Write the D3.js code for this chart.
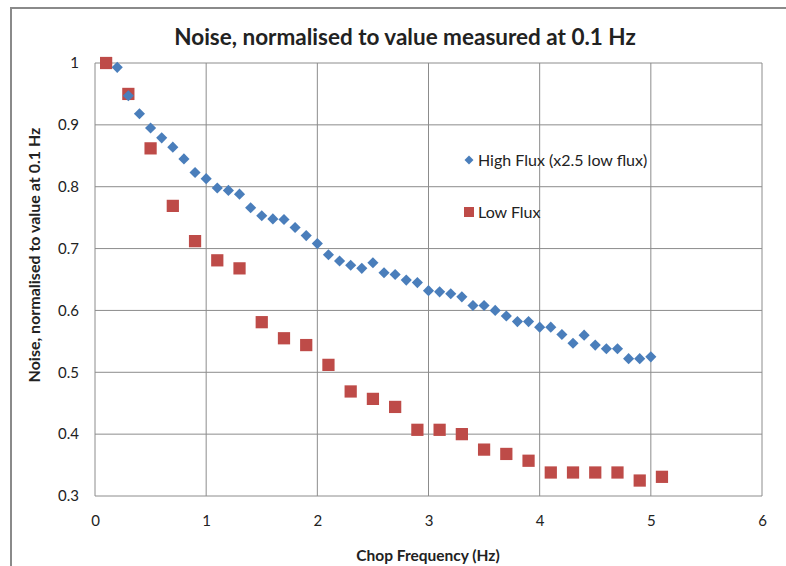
<!DOCTYPE html>
<html>
<head>
<meta charset="utf-8">
<script src="https://cdn.jsdelivr.net/npm/d3@7"></script>
<style>
  body { margin: 0; background: #fff; }
  text { font-family: Lato, 'Open Sans', sans-serif; fill: #222; }
</style>
</head>
<body>
<div class="graph"></div>
<script>
var width = 786,
    height = 566

// chop frequency (Hz)
var highFreq = [0.2, 0.3, 0.4, 0.5, 0.6, 0.7, 0.8, 0.9, 1.0, 1.1, 1.2, 1.3, 1.4, 1.5, 1.6, 1.7,
  1.8, 1.9, 2.0, 2.1, 2.2, 2.3, 2.4, 2.5, 2.6, 2.7, 2.8, 2.9, 3.0, 3.1, 3.2, 3.3, 3.4, 3.5,
  3.6, 3.7, 3.8, 3.9, 4.0, 4.1, 4.2, 4.3, 4.4, 4.5, 4.6, 4.7, 4.8, 4.9, 5.0];
var highNoise = [0.993, 0.947, 0.918, 0.895, 0.879, 0.864, 0.845, 0.823, 0.813, 0.798, 0.794, 0.788,
  0.766, 0.753, 0.748, 0.747, 0.734, 0.721, 0.708, 0.690, 0.680, 0.673, 0.668, 0.677, 0.661,
  0.658, 0.649, 0.645, 0.632, 0.630, 0.627, 0.622, 0.608, 0.608, 0.600, 0.591, 0.582, 0.582,
  0.573, 0.573, 0.561, 0.547, 0.560, 0.544, 0.538, 0.538, 0.522, 0.522, 0.525];

var lowFreq = [0.1, 0.3, 0.5, 0.7, 0.9, 1.1, 1.3, 1.5, 1.7, 1.9, 2.1, 2.3, 2.5, 2.7, 2.9, 3.1,
  3.3, 3.5, 3.7, 3.9, 4.1, 4.3, 4.5, 4.7, 4.9, 5.1];
var lowNoise = [1.0, 0.950, 0.862, 0.769, 0.712, 0.681, 0.668, 0.581, 0.555, 0.544, 0.512, 0.469,
  0.457, 0.444, 0.407, 0.407, 0.400, 0.375, 0.368, 0.357, 0.338, 0.338, 0.338, 0.338, 0.325, 0.331];

var xTicks = [0, 1, 2, 3, 4, 5, 6];
var yTicks = [0.3, 0.4, 0.5, 0.6, 0.7, 0.8, 0.9, 1];

var seriesNames = ['High Flux (x2.5 low flux)', 'Low Flux'];
var blue = '#4a7ebb', red = '#be4b48', grid = '#8c8c8c';

var svg = d3.select('.graph')
  .append('svg')
  .attr('width', width)
  .attr('height', height);

// chart frame
svg.append('path')
  .attr('d', 'M11,' + height + 'V8H' + width)
  .attr('fill', 'none')
  .attr('stroke', '#8a8a8a')
  .attr('stroke-width', 2);

var plot = { left: 95, top: 63, right: 762, bottom: 496 };

var xScale = d3.scaleLinear().domain([0, 6]).range([plot.left, plot.right]);
var yScale = d3.scaleLinear().domain([0.3, 1]).range([plot.bottom, plot.top]);

// gridlines
svg.append('g').selectAll('line')
  .data(yTicks)
  .enter()
  .append('line')
  .attr('x1', plot.left).attr('x2', plot.right)
  .attr('y1', d => yScale(d)).attr('y2', d => yScale(d))
  .attr('stroke', grid);

svg.append('g').selectAll('line')
  .data(xTicks)
  .enter()
  .append('line')
  .attr('y1', plot.top).attr('y2', plot.bottom)
  .attr('x1', d => xScale(d)).attr('x2', d => xScale(d))
  .attr('stroke', grid);

// axes (labels only, lines drawn as grid)
var xAxis = d3.axisBottom(xScale).tickValues(xTicks).tickSize(0).tickPadding(19)
  .tickFormat(d3.format('d'));
var xAxisGroup = svg.append('g')
  .attr('transform', 'translate(0,' + plot.bottom + ')')
  .call(xAxis);

var yAxis = d3.axisLeft(yScale).tickValues(yTicks).tickSize(0).tickPadding(16)
  .tickFormat(d => d === 1 ? '1' : d3.format('.1f')(d));
var yAxisGroup = svg.append('g')
  .attr('transform', 'translate(' + plot.left + ',0)')
  .call(yAxis);

[xAxisGroup, yAxisGroup].forEach(g => {
  g.select('.domain').remove();
  g.selectAll('text')
    .style('font-family', 'Lato, sans-serif')
    .style('font-size', '15px')
    .attr('fill', '#222');
});

// series
var diamond = d3.symbol().type(d3.symbolSquare).size(62);
var square = d3.symbol().type(d3.symbolSquare).size(150);

svg.append('g').selectAll('path')
  .data(lowFreq)
  .enter()
  .append('path')
  .attr('d', square)
  .attr('transform', (d, i) => 'translate(' + xScale(d) + ',' + yScale(lowNoise[i]) + ')')
  .attr('fill', red);

svg.append('g').selectAll('path')
  .data(highFreq)
  .enter()
  .append('path')
  .attr('d', diamond)
  .attr('transform', (d, i) => 'translate(' + xScale(d) + ',' + yScale(highNoise[i]) + ') rotate(45)')
  .attr('fill', blue);

// legend
var legend = svg.append('g');
legend.append('path')
  .attr('d', d3.symbol().type(d3.symbolSquare).size(40))
  .attr('transform', 'translate(469,160) rotate(45)')
  .attr('fill', blue);
legend.append('path')
  .attr('d', d3.symbol().type(d3.symbolSquare).size(100))
  .attr('transform', 'translate(469,212)')
  .attr('fill', red);
legend.selectAll('text')
  .data(seriesNames)
  .enter()
  .append('text')
  .attr('x', 478)
  .attr('y', (d, i) => 166 + i * 52)
  .style('font-size', '16px')
  .text(d => d);

// titles
svg.append('text')
  .attr('x', 405)
  .attr('y', 45)
  .attr('text-anchor', 'middle')
  .style('font-size', '22.5px')
  .style('font-weight', 'bold')
  .text('Noise, normalised to value measured at 0.1 Hz');

svg.append('text')
  .attr('x', 428)
  .attr('y', 561)
  .attr('text-anchor', 'middle')
  .style('font-size', '15.5px')
  .style('font-weight', 'bold')
  .text('Chop Frequency (Hz)');

svg.append('text')
  .attr('transform', 'translate(40,255) rotate(-90)')
  .attr('text-anchor', 'middle')
  .style('font-size', '16px')
  .style('font-weight', 'bold')
  .text('Noise, normalised to value at 0.1 Hz');
</script>
</body>
</html>
